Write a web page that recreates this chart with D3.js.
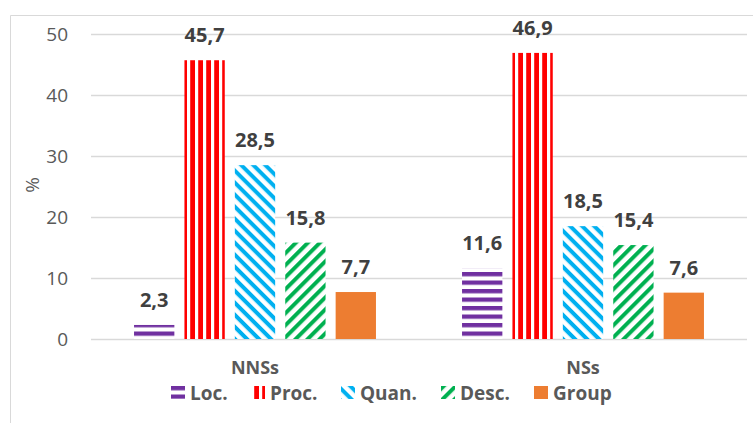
<!DOCTYPE html>
<html>
<head>
<meta charset="utf-8">
<script src="https://cdn.jsdelivr.net/npm/d3@7"></script>
<style>
  body { margin: 0; background: #fff; }
  text { font-family: "Open Sans", Lato, sans-serif; }
</style>
</head>
<body>
<script>
// data
const groups = ["NNSs", "NSs"];
const series = ["Loc.", "Proc.", "Quan.", "Desc.", "Group"];
const values = {
  "NNSs": [2.3, 45.7, 28.5, 15.8, 7.7],
  "NSs":  [11.6, 46.9, 18.5, 15.4, 7.6]
};
const yTicks = [0, 10, 20, 30, 40, 50];

const w = 753, h = 423;
const colors = ["#7030A0", "#FF0000", "#00B0F0", "#00B050", "#ED7D31"];

const svg = d3.select("body").append("svg")
  .attr("width", w)
  .attr("height", h);

// patterns
const defs = svg.append("defs");
function stripes(id, color, period, thick, angle) {
  const p = defs.append("pattern")
    .attr("id", id)
    .attr("patternUnits", "userSpaceOnUse")
    .attr("width", period)
    .attr("height", period)
    .attr("patternTransform", "rotate(" + angle + ")");
  p.append("rect").attr("width", period).attr("height", period).attr("fill", "#fff");
  p.append("rect").attr("x", 0).attr("y", 0)
    .attr("width", period).attr("height", thick).attr("fill", color);
}
stripes("p0", colors[0], 8.5, 4.3, 0);
stripes("p1", colors[1], 8, 4.8, 90);
stripes("p2", colors[2], 8.5, 4, 45);
stripes("p3", colors[3], 8.5, 4, -45);
const fills = ["url(#p0)", "url(#p1)", "url(#p2)", "url(#p3)", colors[4]];

// chart border
svg.append("path")
  .attr("d", "M10.5," + h + "V15.5H" + w)
  .attr("fill", "none")
  .attr("stroke", "#D9D9D9");

const left = 91, right = 747;
const y = d3.scaleLinear().domain([0, 50]).range([339, 34]);
const x0 = d3.scaleBand().domain(groups).range([left, right]).paddingInner(0).paddingOuter(0);
const x1 = d3.scaleBand().domain(series).range([38, x0.bandwidth() - 38]).paddingInner(0.2).paddingOuter(0.1);

// grid
svg.append("g").selectAll("line")
  .data(yTicks)
  .enter().append("line")
  .attr("x1", left).attr("x2", right)
  .attr("y1", d => Math.round(y(d)) + 0.5)
  .attr("y2", d => Math.round(y(d)) + 0.5)
  .attr("stroke", "#D9D9D9")
  .attr("stroke-width", 1.3);

// y axis
const yAxis = d3.axisLeft(y).tickValues(yTicks).tickSize(0).tickPadding(0);
svg.append("g")
  .attr("transform", "translate(68,0)")
  .call(yAxis)
  .call(g => g.select(".domain").remove())
  .selectAll("text")
  .attr("fill", "#595959")
  .style("font-size", "19px")
  .style("font-family", "'Open Sans', sans-serif");

svg.append("text")
  .attr("transform", "translate(39,185) rotate(-90)")
  .attr("text-anchor", "middle")
  .attr("fill", "#595959")
  .style("font-size", "19px")
  .text("%");

// bars
const gs = svg.selectAll(".grp")
  .data(groups)
  .enter().append("g")
  .attr("class", "grp")
  .attr("transform", d => "translate(" + x0(d) + ",0)");

gs.selectAll("rect")
  .data(g => values[g].map((v, i) => ({ s: series[i], v: v, i: i })))
  .enter().append("rect")
  .attr("x", d => x1(d.s))
  .attr("width", x1.bandwidth())
  .attr("y", d => y(d.v))
  .attr("height", d => y(0) - y(d.v))
  .attr("fill", d => fills[d.i]);

gs.selectAll(".lbl")
  .data(g => values[g].map((v, i) => ({ s: series[i], v: v })))
  .enter().append("text")
  .attr("class", "lbl")
  .attr("x", d => x1(d.s) + x1.bandwidth() / 2)
  .attr("y", d => y(d.v) - 18)
  .attr("text-anchor", "middle")
  .attr("fill", "#404040")
  .style("font-size", "20px")
  .style("font-weight", "bold")
  .text(d => String(d.v).replace(".", ","));

// category labels
svg.selectAll(".cat")
  .data(groups)
  .enter().append("text")
  .attr("class", "cat")
  .attr("x", d => x0(d) + x0.bandwidth() / 2)
  .attr("y", 374)
  .attr("text-anchor", "middle")
  .attr("fill", "#595959")
  .style("font-size", "18px")
  .style("font-weight", "bold")
  .text(d => d);

// legend
const legX = [171, 251, 341, 441, 534];
const leg = svg.selectAll(".leg")
  .data(series)
  .enter().append("g")
  .attr("class", "leg")
  .attr("transform", (d, i) => "translate(" + legX[i] + ",386)");

leg.append("rect")
  .attr("width", 14)
  .attr("height", 13)
  .attr("fill", (d, i) => fills[i]);

leg.append("text")
  .attr("x", 19)
  .attr("y", 14)
  .attr("fill", "#595959")
  .style("font-size", "19px")
  .style("font-weight", "bold")
  .text(d => d);
</script>
</body>
</html>
